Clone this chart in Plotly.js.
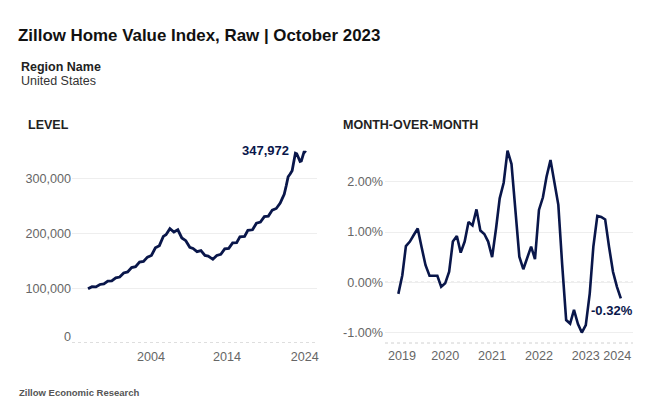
<!DOCTYPE html>
<html>
<head>
<meta charset="utf-8">
<script src="https://cdn.plot.ly/plotly-3.0.1.min.js"></script>
<style>html,body{margin:0;padding:0;background:#fff;}#chart{width:650px;height:410px;}</style>
</head>
<body>
<div id="chart"></div>
<script>
// ---- Data: LEVEL (ZHVI raw, US) ----
var levelDates = [
  '1996-04-01','1996-10-01','1997-04-01','1997-10-01','1998-04-01','1998-10-01',
  '1999-04-01','1999-10-01','2000-04-01','2000-10-01','2001-04-01','2001-10-01',
  '2002-04-01','2002-10-01','2003-04-01','2003-10-01','2004-04-01','2004-10-01',
  '2005-04-01','2005-10-01','2006-02-01','2006-08-01','2007-02-01','2007-08-01',
  '2008-02-01','2008-08-01','2009-02-01','2009-07-01','2010-01-01','2010-07-01',
  '2011-01-01','2011-06-01','2012-01-01','2012-07-01','2013-01-01','2013-07-01',
  '2014-01-01','2014-07-01','2015-01-01','2015-06-01','2016-01-01','2016-06-01',
  '2017-01-01','2017-07-01','2018-01-01','2018-07-01','2019-01-01','2019-07-01',
  '2020-01-01','2020-07-01','2020-10-01','2021-01-01','2021-04-01','2021-07-01',
  '2021-10-01','2022-01-01','2022-04-01','2022-06-01','2022-08-01','2022-10-01',
  '2023-01-01','2023-03-01','2023-05-01','2023-07-01','2023-09-01','2023-10-01'
];
var levelValues = [
  99000,103000,102500,107000,108000,113000,
  113500,119000,120500,128000,130000,138000,
  139500,148000,149000,157000,160000,174000,
  178000,195000,198000,209000,203000,207000,
  192000,187000,175000,173000,167000,169000,
  160000,159000,153000,160000,162000,172000,
  173000,183000,183500,194000,195000,206000,
  207000,219000,221000,231000,232000,243000,
  246000,256000,264000,272000,287000,304000,
  309000,315000,334000,347000,346000,340000,
  332000,333000,342000,349000,349000,347972
];
var levelTickVals = ['2004-03-10','2013-10-12','2023-08-10'];
var levelTickText = ['2004','2014','2024'];
var levelYTicks = [100000,200000,300000];
var levelYTickText = ['100,000','200,000','300,000'];

// ---- Data: MONTH-OVER-MONTH (%), Jan 2019 - Oct 2023 ----
var momStart = [2019, 1];
var momValues = [
  -0.23, 0.14, 0.72, 0.81, 0.94, 1.07, 0.70, 0.34, 0.13, 0.13, 0.13, -0.09,
  -0.02, 0.21, 0.81, 0.92, 0.59, 0.81, 1.20, 1.13, 1.45, 1.03, 0.96, 0.81,
   0.50, 1.08, 1.67, 1.98, 2.62, 2.35, 1.39, 0.51, 0.26, 0.48, 0.71, 0.46,
   1.44, 1.69, 2.10, 2.43, 1.98, 1.54, 0.35, -0.75, -0.82, -0.55, -0.83, -1.00,
  -0.85, -0.22, 0.71, 1.32, 1.30, 1.25, 0.71, 0.21, -0.09, -0.32
];
var momTickVals = ['2019-01-30','2020-01-01','2021-01-01','2022-01-01','2023-01-01','2023-09-03'];
var momTickText = ['2019','2020','2021','2022','2023','2024'];
var momYTicks = [-1, 0, 1, 2];
var momYTickText = ['-1.00%','0.00%','1.00%','2.00%'];

var momDates = [];
for (var i = 0; i < momValues.length; i++) {
  var m = momStart[1] - 1 + i;
  var y = momStart[0] + Math.floor(m / 12);
  var mm = (m % 12) + 1;
  momDates.push(y + '-' + (mm < 10 ? '0' + mm : mm) + '-01');
}

var NAVY = '#09164a';
var FONT = 'Arial, "Liberation Sans", sans-serif';
var W = 650, H = 410;
function px(x){ return x / W; }
function py(y){ return 1 - y / H; }

var L = [px(72), px(317)];
var R = [px(385), px(633)];
var YD = [py(343), py(145)];

var traces = [
  {x: levelDates, y: levelValues, xaxis: 'x', yaxis: 'y', type: 'scatter', mode: 'lines',
   line: {color: NAVY, width: 2.8}, hoverinfo: 'skip'},
  {x: momDates, y: momValues, xaxis: 'x2', yaxis: 'y2', type: 'scatter', mode: 'lines',
   line: {color: NAVY, width: 2.6}, hoverinfo: 'skip'}
];

var tickFont = {family: FONT, size: 12.6, color: '#666666'};
var layout = {
  width: W, height: H,
  margin: {l: 0, r: 0, t: 0, b: 0},
  paper_bgcolor: '#fff', plot_bgcolor: '#fff',
  showlegend: false,
  font: {family: FONT},
  title: {text: '<b>Zillow Home Value Index, Raw | October 2023</b>',
          font: {family: FONT, size: 16.9, color: '#111'},
          x: px(18), xanchor: 'left', xref: 'paper', y: py(35), yanchor: 'middle'},
  xaxis: {domain: L, type: 'date', range: ['1994-03-25', '2025-02-20'],
          tickvals: levelTickVals, ticktext: levelTickText, showgrid: false,
          zeroline: false, showline: false, ticks: '', tickfont: tickFont, fixedrange: true,
          ticklabelstandoff: 4},
  yaxis: {domain: YD, range: [0, 362000], tickvals: levelYTicks, ticktext: levelYTickText,
          showgrid: true, gridcolor: '#eeeeee', gridwidth: 1, zeroline: false, showline: false,
          ticks: '', tickfont: tickFont, fixedrange: true},
  xaxis2: {domain: R, anchor: 'y2', type: 'date', range: ['2018-09-19', '2024-01-04'],
          tickvals: momTickVals, ticktext: momTickText, showgrid: false,
          zeroline: false, showline: false, ticks: '', tickfont: tickFont, fixedrange: true,
          ticklabelstandoff: 3},
  yaxis2: {domain: YD, anchor: 'x2', range: [-1.207, 2.73], tickvals: momYTicks, ticktext: momYTickText,
          showgrid: true, gridcolor: '#eeeeee', gridwidth: 1, zeroline: false, showline: false,
          ticks: '', tickfont: tickFont, fixedrange: true, ticklabelstandoff: 1},
  shapes: [
    {type: 'line', xref: 'paper', yref: 'y', x0: L[0], x1: L[1], y0: 0, y1: 0,
     line: {color: '#bdbdbd', width: 1, dash: 'dot'}, layer: 'above'},
    {type: 'line', xref: 'paper', yref: 'y2', x0: R[0], x1: R[1], y0: 0, y1: 0,
     line: {color: '#a8a8a8', width: 1, dash: 'dot'}, layer: 'below'},
    {type: 'line', xref: 'paper', yref: 'paper', x0: R[0], x1: R[1], y0: YD[0], y1: YD[0],
     line: {color: '#d0d0d0', width: 1, dash: 'dot'}, layer: 'below'}
  ],
  annotations: [
    {text: '<b>Region Name</b>', xref: 'paper', yref: 'paper', x: px(18.5), y: py(67),
     xanchor: 'left', yanchor: 'middle', showarrow: false, font: {family: FONT, size: 12.5, color: '#222'}},
    {text: 'United States', xref: 'paper', yref: 'paper', x: px(19), y: py(81),
     xanchor: 'left', yanchor: 'middle', showarrow: false, font: {family: FONT, size: 12.5, color: '#333'}},
    {text: '<b>LEVEL</b>', xref: 'paper', yref: 'paper', x: px(26), y: py(125),
     xanchor: 'left', yanchor: 'middle', showarrow: false, font: {family: FONT, size: 12.5, color: '#222'}},
    {text: '<b>MONTH-OVER-MONTH</b>', xref: 'paper', yref: 'paper', x: px(341), y: py(125),
     xanchor: 'left', yanchor: 'middle', showarrow: false, font: {family: FONT, size: 12.5, color: '#222'}},
    {text: '0', xref: 'paper', yref: 'paper', x: px(72.5), y: py(336.5),
     xanchor: 'right', yanchor: 'middle', showarrow: false, font: tickFont},
    {text: '<b>347,972</b>', xref: 'x', yref: 'y', x: levelDates[levelDates.length - 1],
     y: levelValues[levelValues.length - 1], xanchor: 'right', yanchor: 'middle', xshift: -15, yshift: 2,
     showarrow: false, font: {family: FONT, size: 13, color: NAVY}},
    {text: '<b>-0.32%</b>', xref: 'x2', yref: 'y2', x: momDates[momDates.length - 1],
     y: momValues[momValues.length - 1], xanchor: 'center', yanchor: 'middle', xshift: -9, yshift: -12,
     showarrow: false, font: {family: FONT, size: 13, color: NAVY}},
    {text: '<b>Zillow Economic Research</b>', xref: 'paper', yref: 'paper', x: px(17), y: py(392),
     xanchor: 'left', yanchor: 'middle', showarrow: false, font: {family: FONT, size: 9.5, color: '#555'}}
  ]
};

Plotly.newPlot('chart', traces, layout, {displayModeBar: false, staticPlot: true});
</script>
</body>
</html>
